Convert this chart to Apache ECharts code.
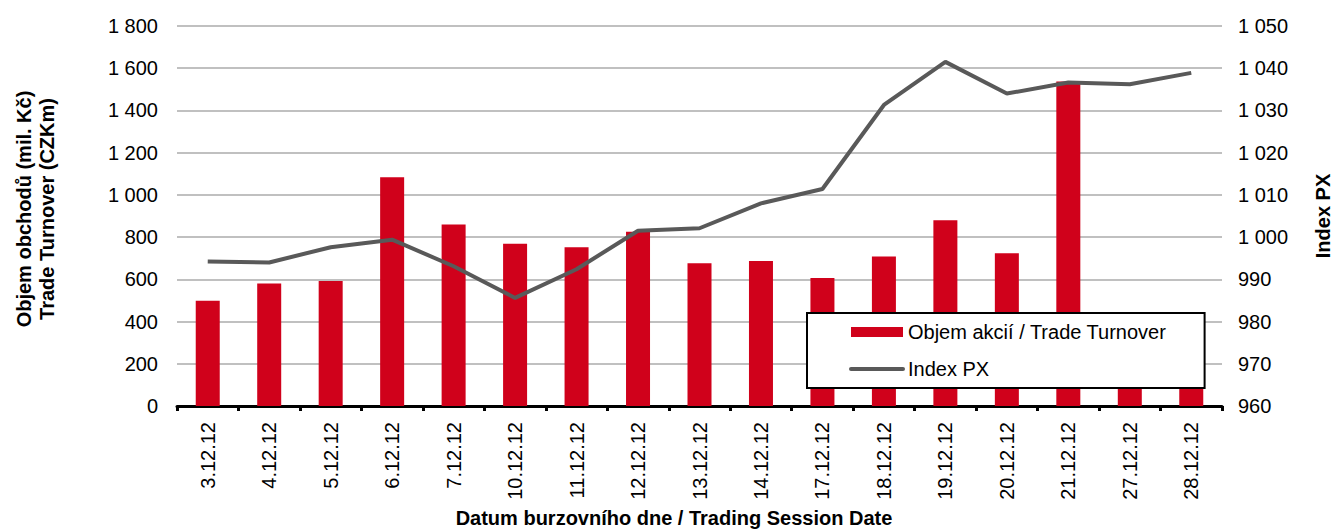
<!DOCTYPE html>
<html>
<head>
<meta charset="utf-8">
<script src="https://cdn.jsdelivr.net/npm/echarts@6/dist/echarts.min.js"></script>
<style>
  html, body { margin: 0; padding: 0; background: #fff; }
  #chart { width: 1335px; height: 529px; }
</style>
</head>
<body>
<div id="chart"></div>
<script>
// data
var dates = ['3.12.12', '4.12.12', '5.12.12', '6.12.12', '7.12.12', '10.12.12', '11.12.12', '12.12.12',
  '13.12.12', '14.12.12', '17.12.12', '18.12.12', '19.12.12', '20.12.12', '21.12.12', '27.12.12', '28.12.12']
var turnover = [498, 580, 592, 1084, 860, 768, 752, 825, 676, 687, 606, 708, 880, 724, 1537, 400, 360]
var indexPx = [994.2, 994.0, 997.6, 999.4, 993.1, 985.6, 992.4, 1001.5, 1002.1, 1008.0, 1011.4,
  1031.3, 1041.5, 1034.0, 1036.6, 1036.2, 1038.9]
var leftTicks = { min: 0, max: 1800, interval: 200 }
var rightTicks = { min: 960, max: 1050, interval: 10 }

var font = '"Liberation Sans", Arial, sans-serif'
var spaced = function (v) {
  return String(v).replace(/\B(?=(\d{3})+(?!\d))/g, ' ')
}

var chart = echarts.init(document.getElementById('chart'), null, { renderer: 'svg' })
var option = {
  animation: false,
  textStyle: { fontFamily: font, color: '#000' },
  grid: { left: 177, right: 113, top: 26, bottom: 123, outerBoundsMode: 'none' },
  legend: {
    orient: 'vertical',
    left: 807,
    top: 313,
    backgroundColor: '#fff',
    borderColor: '#000',
    borderWidth: 2,
    borderRadius: 0,
    padding: [9, 38, 9, 42],
    itemGap: 17,
    itemWidth: 52,
    itemHeight: 10,
    textStyle: { fontFamily: font, fontSize: 20, color: '#000', lineHeight: 20 },
    data: [
      { name: 'Objem akcií / Trade Turnover', icon: 'rect' },
      { name: 'Index PX', itemStyle: { opacity: 0 }, lineStyle: { width: 4, cap: 'round' } }
    ]
  },
  xAxis: {
    type: 'category',
    data: dates,
    name: 'Datum burzovního dne / Trading Session Date',
    nameLocation: 'middle',
    nameGap: 102,
    nameTextStyle: { fontFamily: font, fontSize: 20, fontWeight: 'bold', color: '#000', padding: [0, 51, 0, 0] },
    axisLine: { lineStyle: { color: '#000', width: 3 } },
    axisTick: { show: true, length: 5, lineStyle: { color: '#000', width: 3 } },
    axisLabel: { rotate: 90, margin: 16, fontSize: 20, color: '#000', fontFamily: font }
  },
  yAxis: [
    {
      type: 'value',
      min: leftTicks.min,
      max: leftTicks.max,
      interval: leftTicks.interval,
      name: 'Objem obchodů (mil. Kč)\nTrade Turnover (CZKm)',
      nameLocation: 'middle',
      nameGap: 119,
      nameTextStyle: { fontFamily: font, fontSize: 20, fontWeight: 'bold', color: '#000', lineHeight: 23, padding: [0, 0, 0, 14] },
      axisLine: { show: false },
      axisTick: { show: false },
      axisLabel: { margin: 19, fontSize: 20, color: '#000', fontFamily: font, formatter: spaced },
      splitLine: { lineStyle: { color: '#c0c0c0', width: 2 } }
    },
    {
      type: 'value',
      min: rightTicks.min,
      max: rightTicks.max,
      interval: rightTicks.interval,
      name: 'Index PX',
      nameLocation: 'middle',
      nameGap: 91,
      nameRotate: 90,
      nameTextStyle: { fontFamily: font, fontSize: 20, fontWeight: 'bold', color: '#000' },
      axisLine: { show: false },
      axisTick: { show: false },
      axisLabel: { margin: 16, fontSize: 20, color: '#000', fontFamily: font, formatter: spaced },
      splitLine: { show: false }
    }
  ],
  series: [
    {
      name: 'Objem akcií / Trade Turnover',
      type: 'bar',
      yAxisIndex: 0,
      barWidth: 24,
      itemStyle: { color: '#d0011b' },
      data: turnover
    },
    {
      name: 'Index PX',
      type: 'line',
      yAxisIndex: 1,
      symbol: 'none',
      lineStyle: { color: '#595959', width: 4 },
      itemStyle: { color: '#595959' },
      data: indexPx
    }
  ]
}
chart.setOption(option)
</script>
</body>
</html>
